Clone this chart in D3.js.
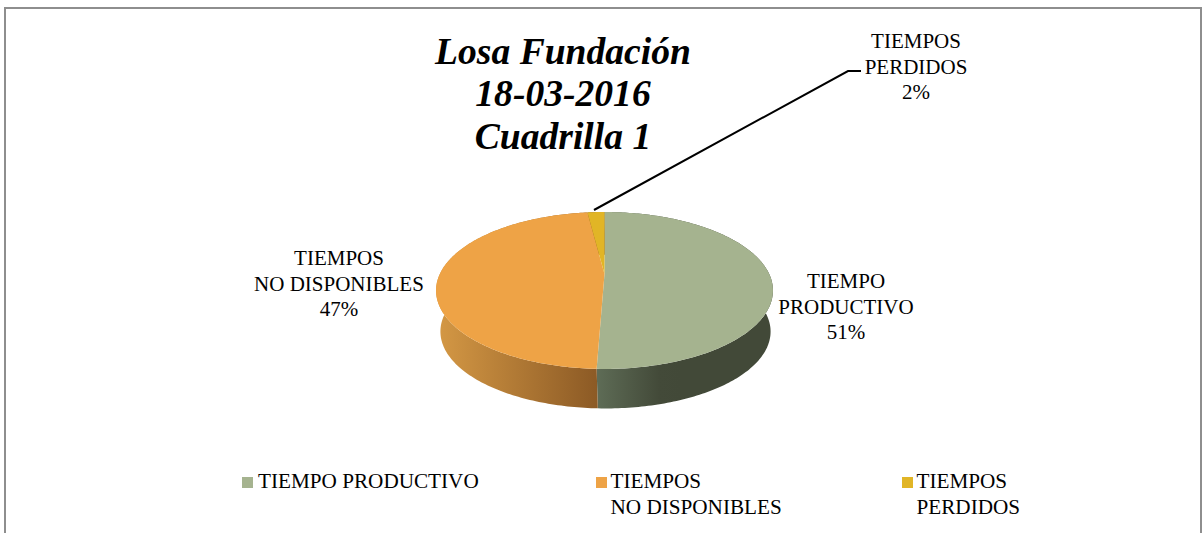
<!DOCTYPE html>
<html><head><meta charset="utf-8">
<script src="https://cdn.jsdelivr.net/npm/d3@7"></script>
<style>html,body{margin:0;padding:0;background:#fff;overflow:hidden}svg{display:block}text{font-family:"Liberation Serif",serif;fill:#000}</style>
</head><body><svg id="c" width="1203" height="533"></svg>
<script>
const categories = ["TIEMPO PRODUCTIVO","TIEMPOS NO DISPONIBLES","TIEMPOS PERDIDOS"];
const values = [50.6,47.4,2.0];
const percentLabels = ["51%","47%","2%"];
const colors = ["#a5b38f","#eea346","#e1b526"];
const titleLines = ["Losa Fundación","18-03-2016","Cuadrilla 1"];
const labelLines = [["TIEMPO","PRODUCTIVO"],["TIEMPOS","NO DISPONIBLES"],["TIEMPOS","PERDIDOS"]];
const legendLines = [["TIEMPO PRODUCTIVO"],["TIEMPOS","NO DISPONIBLES"],["TIEMPOS","PERDIDOS"]];

const svg = d3.select("#c");
svg.append("rect").attr("x",5).attr("y",8).attr("width",1196).attr("height",540)
  .attr("fill","#fff").attr("stroke","#8e8e8e").attr("stroke-width",2);

const defs = svg.append("defs");
function grad(id,x1,x2,stops){
  const g=defs.append("linearGradient").attr("id",id).attr("gradientUnits","userSpaceOnUse")
    .attr("x1",x1).attr("x2",x2).attr("y1",0).attr("y2",0);
  stops.forEach(s=>g.append("stop").attr("offset",s[0]).attr("stop-color",s[1]));
}
grad("g0",597,680,[[0,"#5e6c56"],[0.75,"#434a39"],[1,"#424938"]]);
grad("g1",440,597,[[0,"#d39744"],[1,"#8c5a25"]]);
grad("g2",440,597,[[0,"#d39744"],[1,"#8c5a25"]]);

// projected (perspective) pie
const cx=604.5,y0=274,k=0.21,A=164.7,B=75,shrink=0.98,drop=41.4,shift=1;
const proj=a=>{const u=Math.sin(a),v=Math.cos(a),w=1+k*v;return [cx+A*u/w,y0-B*v/w];};
const low=p=>[cx+shift+shrink*(p[0]-cx),y0+shrink*(p[1]-y0)+drop];
const arcs=d3.pie().sort(null).value(d=>d)(values);
const line=d3.line();
const samples=d=>{const n=Math.max(4,Math.ceil((d.endAngle-d.startAngle)*60));
  return d3.range(n+1).map(i=>d.startAngle+(d.endAngle-d.startAngle)*i/n);};

arcs.forEach((d,i)=>{
  const top=samples(d).map(proj);
  svg.append("path").attr("d",line(top.concat(top.slice().reverse().map(low)))+"Z")
    .attr("fill",`url(#g${i})`);
});
arcs.forEach((d,i)=>{
  const top=samples(d).map(proj);
  svg.append("path").attr("d",line([[cx,y0]].concat(top))+"Z").attr("fill",colors[i]);
});

function block(x,y,lines,fs,lh,anchor){
  const t=svg.append("text").attr("x",x).attr("y",y).attr("font-size",fs).attr("text-anchor",anchor||"middle");
  lines.forEach((l,i)=>t.append("tspan").attr("x",x).attr("y",y+i*lh).text(l));
  return t;
}
block(563,63.5,titleLines,37.6,42.5).attr("font-weight","bold").attr("font-style","italic");

const labelPos=[[846,288],[339,265],[916,48]];
labelPos.forEach((p,i)=>block(p[0],p[1],labelLines[i].concat(percentLabels[i]),21,25.5));

// leader line
svg.append("path").attr("d",line([[594,210],[848,71],[861,71]])).attr("fill","none")
  .attr("stroke","#000").attr("stroke-width",2);

// legend
const legX=[242,596,902], legTextX=[258,610.5,916.5];
legX.forEach((x,i)=>{
  svg.append("rect").attr("x",x).attr("y",477).attr("width",11).attr("height",11).attr("fill",colors[i]);
  block(legTextX[i],488,legendLines[i],21.2,26,"start");
});
</script></body></html>
